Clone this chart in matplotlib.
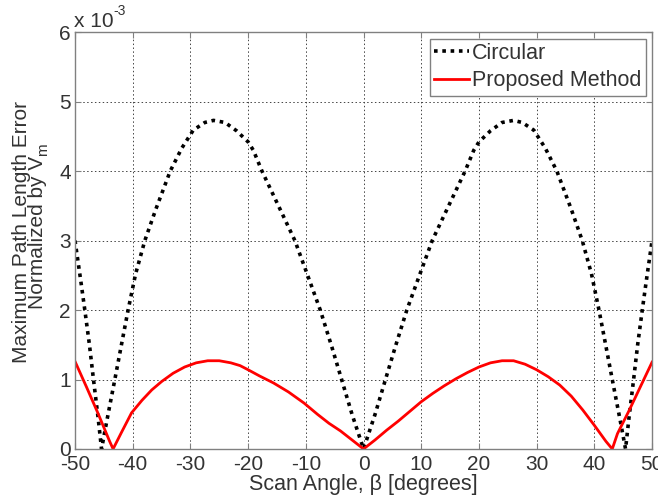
import numpy as np
import matplotlib.pyplot as plt

plt.rcParams['font.family'] = ['Liberation Sans', 'DejaVu Sans']

# --- data (y in units of 1e-3) ---

circ_angle = [-50, -49, -48.3, -47.5, -46.8, -46, -45.4, -44.5, -43.1, -42, -40.8,
              -39.5, -37.9, -36, -33.5, -31.5, -29.5, -27.5, -26, -24, -22, -20,
              -19.1, -17.6, -16, -14, -11.9, -10, -7.5, -5.5, -3.8, -2, 0,
              2, 3.8, 5.5, 7.5, 10, 11.9, 14, 16, 17.6, 19.1, 20, 22, 24, 26,
              27.5, 29.5, 31.5, 33.5, 36, 37.9, 39.5, 40.8, 42, 43.1, 44.5, 45.4,
              46, 46.8, 47.5, 48.3, 49, 50]
circ_err = [3.0, 2.42, 2.0, 1.5, 1.0, 0.45, 0.0, 0.4, 1.0, 1.48, 2.0,
            2.52, 3.0, 3.45, 4.0, 4.33, 4.59, 4.70, 4.73, 4.70, 4.58, 4.42,
            4.3, 4.0, 3.72, 3.37, 3.0, 2.57, 2.0, 1.47, 1.0, 0.5, 0.0,
            0.5, 1.0, 1.47, 2.0, 2.57, 3.0, 3.37, 3.72, 4.0, 4.3, 4.42, 4.58, 4.70, 4.73,
            4.70, 4.59, 4.33, 4.0, 3.45, 3.0, 2.52, 2.0, 1.48, 1.0, 0.4, 0.0,
            0.45, 1.0, 1.5, 2.0, 2.42, 3.0]

prop_angle = [-50, -48, -46, -44, -43.4, -42, -40.2, -38.4, -36.7, -35, -33, -31,
              -29, -27, -25, -23, -21.4, -20, -18, -15.6, -13, -10.3, -8, -6, -4,
              -2, 0,
              2, 4, 6, 8, 10, 12, 14, 16, 18, 20, 22, 24, 26, 28, 30, 32, 34,
              36, 38, 40, 42, 43.1, 44, 46, 48, 50]
prop_err = [1.26, 0.89, 0.51, 0.11, 0.0, 0.23, 0.52, 0.7, 0.85, 0.97, 1.09, 1.18,
            1.24, 1.27, 1.27, 1.24, 1.2, 1.14, 1.05, 0.95, 0.82, 0.66, 0.5, 0.37, 0.26,
            0.13, 0.0,
            0.13, 0.27, 0.4, 0.54, 0.68, 0.8, 0.91, 1.01, 1.1, 1.18, 1.24, 1.27, 1.27,
            1.22, 1.14, 1.04, 0.92, 0.76, 0.56, 0.34, 0.11, 0.0, 0.22, 0.55, 0.9, 1.25]

x_ticks = [-50, -40, -30, -20, -10, 0, 10, 20, 30, 40, 50]
x_ticklabels = ['-50', '-40', '-30', '-20', '-10', '0', '10', '20', '30', '40', '50']
y_ticks = [0, 1, 2, 3, 4, 5, 6]
y_ticklabels = ['0', '1', '2', '3', '4', '5', '6']

# --- plot ---

fig = plt.figure(figsize=(6.58, 4.95), dpi=100)
ax = fig.add_axes([0.114, 0.093, 0.877, 0.842])

ax.plot(circ_angle, circ_err, color='black', linestyle=(0, (1.0, 1.3)),
        linewidth=2.6, label='Circular')
ax.plot(prop_angle, prop_err, color='red', linewidth=2.0, label='Proposed Method')

ax.set_xlim(-50, 50)
ax.set_ylim(0, 6)
ax.set_xticks(x_ticks)
ax.set_xticklabels(x_ticklabels)
ax.set_yticks(y_ticks)
ax.set_yticklabels(y_ticklabels)
ax.tick_params(direction='in', length=4, labelsize=15, colors='#808080',
               labelcolor='#333333', top=True, right=True)
ax.tick_params(axis='x', pad=4)
ax.tick_params(axis='y', pad=3)
ax.grid(True, color='#444444', linestyle=(0, (1.5, 2.5)), linewidth=0.7)
for s in ax.spines.values():
    s.set_color('#808080')
    s.set_linewidth(1.0)

ax.set_xlabel(u"Scan Angle, \u03b2 [degrees]", fontsize=15.5, color='#333333',
              labelpad=0)
# y label: two plain lines, subscript m added as its own small text
ax.set_ylabel("Maximum Path Length Error\nNormalized by V",
              fontsize=15, color='#333333', linespacing=0.8)
ax.yaxis.set_label_coords(-0.048, 0.52)
fig.text(0.066, 0.698, "m", fontsize=11, color='#333333', rotation=90,
         ha='center', va='center')

fig.text(0.113, 0.945, "x 10", fontsize=15, color='#333333',
         va='baseline', ha='left')
fig.text(0.172, 0.970, "-3", fontsize=10, color='#333333',
         va='baseline', ha='left')

leg = ax.legend(loc='upper right', fontsize=15.5, fancybox=False, framealpha=1,
                edgecolor='#808080', handlelength=1.6, handletextpad=0.15,
                borderpad=0.2, labelspacing=0.3, borderaxespad=0.3)
leg.get_frame().set_linewidth(1.0)
for t in leg.get_texts():
    t.set_color('#333333')

fig.savefig('out.png', dpi=100)
